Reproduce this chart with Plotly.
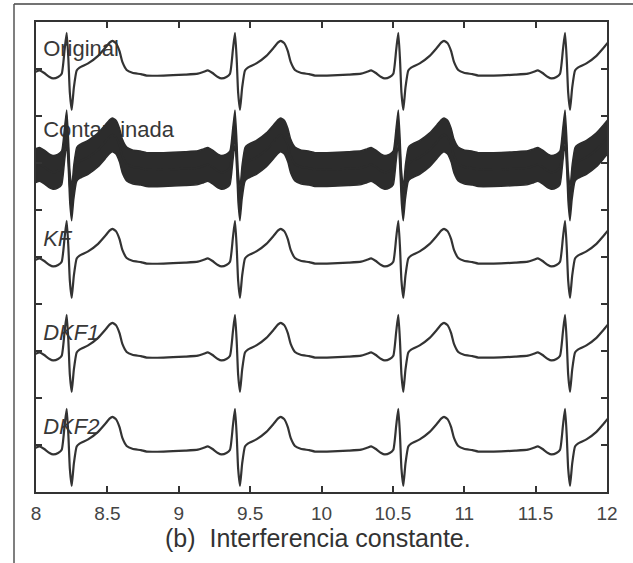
import plotly.graph_objects as go

# ---------------- data ----------------
SERIES_NAMES = ["Original", "Contaminada", "KF", "DKF1", "DKF2"]
SERIES_ITALIC = [False, False, True, True, True]
SERIES_BASE = [9, 7, 5, 3, 1]           # stacking level of each trace
LABEL_LIFT = [0.40, 0.68, 0.36, 0.36, 0.36]

# R-peak times (s)
BEAT_TIMES = [8.215, 9.394, 10.538, 11.706]

# one heartbeat, time offset from the R peak (s) and amplitude
BEAT_DT = [-0.50, -0.35, -0.26, -0.22, -0.19, -0.16, -0.12, -0.095, -0.06,
           -0.035, -0.015, 0.0, 0.012, 0.022, 0.035, 0.05, 0.07, 0.09,
           0.15, 0.22, 0.27, 0.30, 0.32, 0.345, 0.37, 0.39, 0.42, 0.46,
           0.52, 0.56]
BEAT_V = [-0.14, -0.12, -0.10, -0.06, -0.03, -0.08, -0.17, -0.20, -0.17,
          -0.10, 0.40, 0.77, 0.20, -0.50, -0.87, -0.40, -0.03, 0.03,
          0.12, 0.28, 0.45, 0.56, 0.60, 0.55, 0.38, 0.15, -0.02, -0.08,
          -0.11, -0.14]

# half amplitude of the constant (power-line) interference band
INTERF_AMP = 0.36

X_TICKS = [8, 8.5, 9, 9.5, 10, 10.5, 11, 11.5, 12]
X_TICK_TEXT = ["8", "8.5", "9", "9.5", "10", "10.5", "11", "11.5", "12"]
Y_TICKS = [1, 2, 3, 4, 5, 6, 7, 8, 9]

CAPTION = "(b)  Interferencia constante."

# ---------------- figure ----------------
LINE_COL = "#333333"
FONT = "Liberation Sans, Arial, sans-serif"


def beat_series(base):
    xs, ys = [], []
    for bt in BEAT_TIMES:
        for dt, v in zip(BEAT_DT, BEAT_V):
            xs.append(bt + dt)
            ys.append(base + v)
    return xs, ys


fig = go.Figure()

# labels first, so that the signals draw over them
for name, ital, base, lift in zip(SERIES_NAMES, SERIES_ITALIC, SERIES_BASE, LABEL_LIFT):
    txt = f"<i>{name}</i>" if ital else name
    fig.add_trace(go.Scatter(
        x=[8.05], y=[base + lift], mode="text", text=[txt],
        textposition="middle right",
        textfont=dict(family=FONT, size=22, color="#383838"),
        showlegend=False, hoverinfo="skip"))

for name, base in zip(SERIES_NAMES, SERIES_BASE):
    xs, ys = beat_series(base)
    if name == "Contaminada":
        up = [y + INTERF_AMP for y in ys]
        lo = [y - INTERF_AMP for y in ys]
        fig.add_trace(go.Scatter(x=xs, y=up, mode="lines",
                                 line=dict(color="#2c2c2c", width=1.5, shape="spline", smoothing=0.5),
                                 showlegend=False, hoverinfo="skip"))
        fig.add_trace(go.Scatter(x=xs, y=lo, mode="lines", fill="tonexty",
                                 fillcolor="#2c2c2c",
                                 line=dict(color="#2c2c2c", width=1.5, shape="spline", smoothing=0.5),
                                 showlegend=False, hoverinfo="skip"))
        fig.add_trace(go.Scatter(x=xs, y=ys, mode="lines",
                                 line=dict(color="#2c2c2c", width=2, shape="spline", smoothing=0.5),
                                 showlegend=False, hoverinfo="skip"))
    else:
        fig.add_trace(go.Scatter(x=xs, y=ys, mode="lines",
                                 line=dict(color=LINE_COL, width=2.2, shape="spline", smoothing=0.5),
                                 showlegend=False, hoverinfo="skip"))

W, H = 633, 563
L, R, T, B = 36, 26, 22, 71
pw, ph = W - L - R, H - T - B


def px_to_paper(px, py):
    return (px - L) / pw, (H - B - py) / ph


# outer frame (left and top lines of the page box)
x0, y0 = px_to_paper(14, 4)
x1, _ = px_to_paper(W + 2, 4)
_, yb = px_to_paper(14, H + 2)
fig.add_shape(type="line", xref="paper", yref="paper", x0=x0, y0=y0, x1=x1, y1=y0,
              line=dict(color="#444444", width=1.5))
fig.add_shape(type="line", xref="paper", yref="paper", x0=x0, y0=y0, x1=x0, y1=yb,
              line=dict(color="#555555", width=1.5))

cx, cy = px_to_paper(318, 538)
fig.add_annotation(xref="paper", yref="paper", x=cx, y=cy, text=CAPTION, showarrow=False,
                   xanchor="center", yanchor="middle",
                   font=dict(family=FONT, size=25, color="#333333"))

fig.update_xaxes(range=[8, 12], tickvals=X_TICKS, ticktext=X_TICK_TEXT,
                 ticks="inside", ticklen=6, tickwidth=1.5, tickcolor=LINE_COL,
                 showline=True, linecolor=LINE_COL, linewidth=2, mirror="allticks",
                 showgrid=False, zeroline=False, ticklabelstandoff=3,
                 tickfont=dict(family=FONT, size=19, color="#444444"))
fig.update_yaxes(range=[0, 10], tickvals=Y_TICKS, showticklabels=False,
                 ticks="inside", ticklen=6, tickwidth=1.5, tickcolor=LINE_COL,
                 showline=True, linecolor=LINE_COL, linewidth=2, mirror="allticks",
                 showgrid=False, zeroline=False)

fig.update_layout(width=W, height=H, margin=dict(l=L, r=R, t=T, b=B),
                  paper_bgcolor="white", plot_bgcolor="white", showlegend=False)

fig.write_html("out.html")
